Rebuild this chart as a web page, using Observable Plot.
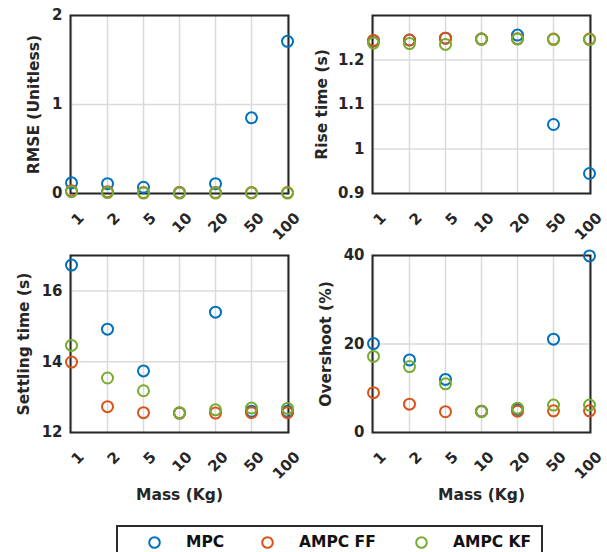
<!DOCTYPE html>
<html>
<head>
<meta charset="utf-8">
<script src="https://cdn.jsdelivr.net/npm/d3@7"></script>
<script src="https://cdn.jsdelivr.net/npm/@observablehq/plot@0.6"></script>
<style>
  html, body { margin: 0; padding: 0; background: #fff; }
  #chart { position: relative; width: 607px; height: 552px; overflow: hidden; background: #fff; }
  .panel { position: absolute; }
  #legend { position: absolute; left: 116px; top: 525px; width: 423px; height: 32px; border: 2px solid #2b2b2b; background: #fff;
            font-family: 'DejaVu Sans', sans-serif; font-weight: bold; font-size: 15.5px; color: #111; }
  #legend .item { position: absolute; top: 6px; display: flex; align-items: center; }
  #legend svg { display: block; }
</style>
</head>
<body>
<div id="chart"></div>
<script>
// ---- data ----
const masses = ["1", "2", "5", "10", "20", "50", "100"];
const seriesNames = ["MPC", "AMPC FF", "AMPC KF"];
const seriesColors = ["#0072BD", "#D95319", "#77AC30"];

const rmseMPC = [0.12, 0.11, 0.07, 0.01, 0.11, 0.85, 1.71];
const rmseFF  = [0.03, 0.02, 0.01, 0.01, 0.01, 0.01, 0.01];
const rmseKF  = [0.02, 0.01, 0.005, 0.005, 0.005, 0.005, 0.005];

const riseMPC = [1.243, 1.245, 1.249, 1.247, 1.256, 1.055, 0.945];
const riseFF  = [1.244, 1.245, 1.249, 1.247, 1.248, 1.247, 1.247];
const riseKF  = [1.238, 1.237, 1.235, 1.247, 1.247, 1.246, 1.246];

const settleMPC = [16.73, 14.92, 13.74, 12.55, 15.40, 12.6, 12.6];
const settleFF  = [13.99, 12.73, 12.56, 12.55, 12.55, 12.56, 12.56];
const settleKF  = [14.46, 13.54, 13.18, 12.56, 12.64, 12.69, 12.68];

const overMPC = [20.1, 16.4, 12.0, 4.8, 5.2, 21.1, 39.9];
const overFF  = [9.0, 6.4, 4.7, 4.8, 4.8, 4.9, 4.9];
const overKF  = [17.2, 14.9, 11.0, 4.7, 5.5, 6.2, 6.2];

const rmseTicks = [0, 1, 2];
const riseTicks = [0.9, 1, 1.1, 1.2];
const settleTicks = [12, 14, 16];
const overTicks = [0, 20, 40];

const xLabel = "Mass (Kg)";

// ---- helpers ----
const FONT = "'DejaVu Sans', sans-serif";
const INK = "#262626";

function toRows(arrays) {
  const rows = [];
  arrays.forEach((vals, s) => vals.forEach((v, i) => rows.push({series: seriesNames[s], mass: masses[i], value: v})));
  return rows;
}

function panel(o) {
  const rows = toRows(o.values);
  return Plot.plot({
    width: o.width, height: o.height,
    marginLeft: o.ml, marginRight: o.mr, marginTop: o.mt, marginBottom: o.mb,
    style: {fontFamily: FONT, fontSize: "15px", fontWeight: "bold", color: INK, background: "transparent", overflow: "visible", maxWidth: "none"},
    x: {type: "point", domain: masses, padding: 0},
    y: {domain: o.yDomain},
    color: {domain: seriesNames, range: seriesColors},
    marks: [
      Plot.gridX(masses, {stroke: "#dadada", strokeOpacity: 1, strokeWidth: 1.5}),
      Plot.gridY(o.yTicks, {stroke: "#dadada", strokeOpacity: 1, strokeWidth: 1.5}),
      Plot.axisX({tickRotate: -45, tickSize: 0, tickPadding: 22, dx: 10, label: null, fontSize: 15}),
      Plot.axisY(o.yTicks, {tickSize: 0, tickPadding: 8, label: null, fontSize: 15, tickFormat: d => String(d)}),
      Plot.frame({stroke: INK, strokeWidth: 2}),
      Plot.dot(rows, {x: "mass", y: "value", stroke: "series", r: 5.5, strokeWidth: 2, fill: "none"}),
      Plot.text([o.yLabel], {text: d => d, frameAnchor: "left", dx: -o.yLabelOffset, rotate: -90,
        textAnchor: "middle", lineAnchor: "middle", fontSize: 15.5, fill: INK}),
      o.xLabel ? Plot.text([o.xLabel], {text: d => d, frameAnchor: "bottom", dy: 63,
        textAnchor: "middle", lineAnchor: "middle", fontSize: 15.5, fill: INK}) : null
    ]
  });
}

const chart = document.getElementById("chart");
function place(node, left, top) {
  const d = document.createElement("div");
  d.className = "panel";
  d.style.left = left + "px";
  d.style.top = top + "px";
  d.appendChild(node);
  chart.appendChild(d);
}

place(panel({width: 300, height: 240, ml: 70, mr: 12, mt: 15, mb: 47,
  values: [rmseMPC, rmseFF, rmseKF], yDomain: [0, 2], yTicks: rmseTicks,
  yLabel: "RMSE (Unitless)", yLabelOffset: 36.5}), 0, 0);
place(panel({width: 307, height: 240, ml: 72, mr: 17, mt: 15, mb: 47,
  values: [riseMPC, riseFF, riseKF], yDomain: [0.9, 1.3], yTicks: riseTicks,
  yLabel: "Rise time (s)", yLabelOffset: 50}), 300, 0);
place(panel({width: 300, height: 270, ml: 70, mr: 12, mt: 15, mb: 78,
  values: [settleMPC, settleFF, settleKF], yDomain: [12, 17], yTicks: settleTicks,
  yLabel: "Settling time (s)", yLabelOffset: 46.5, xLabel}), 0, 240);
place(panel({width: 307, height: 270, ml: 72, mr: 17, mt: 15, mb: 78,
  values: [overMPC, overFF, overKF], yDomain: [0, 40], yTicks: overTicks,
  yLabel: "Overshoot (%)", yLabelOffset: 46.5, xLabel}), 300, 240);

// ---- legend ----
const legend = document.createElement("div");
legend.id = "legend";
const itemX = [29, 142, 296]; // circle left offsets inside legend
seriesNames.forEach((name, i) => {
  const item = document.createElement("div");
  item.className = "item";
  item.style.left = itemX[i] + "px";
  item.innerHTML = `<svg width="15" height="15"><circle cx="7.5" cy="7.5" r="5.3" fill="none" stroke="${seriesColors[i]}" stroke-width="2"/></svg><span style="margin-left:24px">${name}</span>`;
  legend.appendChild(item);
});
chart.appendChild(legend);
</script>
</body>
</html>
